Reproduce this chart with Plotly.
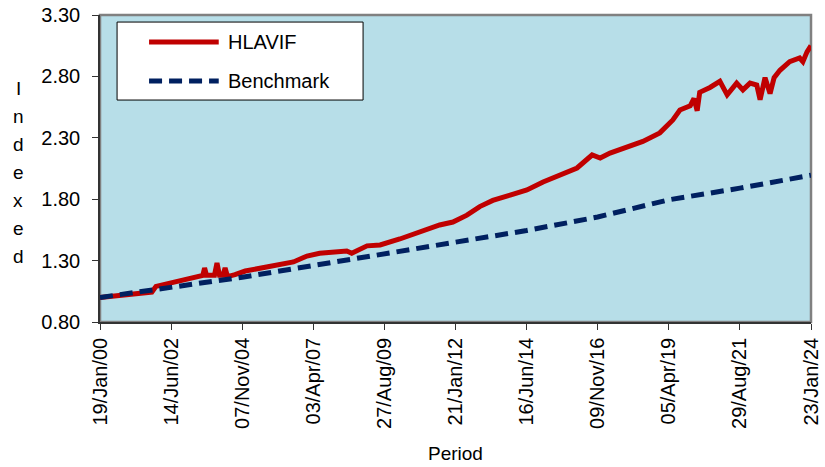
import plotly.graph_objects as go

# ---- data ----
hlavif_dates = [
    "2000-01-19", "2000-11-20", "2001-10-20", "2001-12-10", "2002-07-15", "2003-04-05",
    "2003-07-10", "2003-08-01", "2003-08-25", "2003-12-01", "2004-01-01", "2004-02-01",
    "2004-03-15", "2004-04-10", "2004-05-10", "2004-08-10", "2004-12-15", "2005-09-20",
    "2006-02-15", "2006-08-01", "2007-01-15", "2007-06-20", "2008-05-20", "2008-07-20",
    "2009-01-25", "2009-07-05", "2010-03-05", "2010-11-10", "2011-07-10", "2011-12-20",
    "2012-06-10", "2012-11-15", "2013-04-25", "2013-11-25", "2014-06-20", "2015-01-05",
    "2015-08-01", "2016-02-28", "2016-09-01", "2016-12-10", "2017-04-10", "2017-11-05",
    "2018-05-20", "2018-12-15", "2019-05-25", "2019-08-20", "2019-12-25", "2020-02-10",
    "2020-03-20", "2020-04-20", "2020-08-25", "2020-12-25", "2021-03-25", "2021-07-20",
    "2021-10-05", "2022-01-01", "2022-03-25", "2022-05-05", "2022-07-05", "2022-09-05",
    "2022-10-25", "2023-01-05", "2023-05-05", "2023-09-05", "2023-10-15", "2023-12-05",
    "2024-01-23",
]
hlavif_values = [
    1.00, 1.02, 1.044, 1.09, 1.125, 1.165,
    1.18, 1.24, 1.18, 1.18, 1.28, 1.18,
    1.18, 1.24, 1.17, 1.185, 1.215, 1.25,
    1.264, 1.289, 1.337, 1.36, 1.378, 1.36,
    1.42, 1.427, 1.476, 1.533, 1.59, 1.614,
    1.67, 1.74, 1.79, 1.834, 1.875, 1.94,
    1.997, 2.054, 2.16, 2.135, 2.176, 2.225,
    2.27, 2.34, 2.445, 2.526, 2.56, 2.62,
    2.52, 2.67, 2.71, 2.76, 2.65, 2.745,
    2.69, 2.745, 2.73, 2.61, 2.79, 2.66,
    2.79, 2.85, 2.92, 2.95, 2.92, 3.00,
    3.05,
]

bench_dates = [
    "2000-01-19", "2002-06-14", "2004-11-07", "2007-04-03", "2009-08-27", "2012-01-21",
    "2014-06-16", "2016-11-09", "2019-04-05", "2021-08-29", "2024-01-23",
]
bench_values = [1.00, 1.08, 1.165, 1.26, 1.355, 1.445, 1.545, 1.655, 1.795, 1.89, 1.995]

tick_dates = [
    "2000-01-19", "2002-06-14", "2004-11-07", "2007-04-03", "2009-08-27", "2012-01-21",
    "2014-06-16", "2016-11-09", "2019-04-05", "2021-08-29", "2024-01-23",
]
y_ticks = [0.80, 1.30, 1.80, 2.30, 2.80, 3.30]

series_names = ["HLAVIF", "Benchmark"]
RED = "#C00000"
NAVY = "#002060"
FONT = "Liberation Sans, Arial, sans-serif"

fig = go.Figure()
fig.add_trace(go.Scatter(x=hlavif_dates, y=hlavif_values, mode="lines", name=series_names[0],
                         line=dict(color=RED, width=5), showlegend=False))
fig.add_trace(go.Scatter(x=bench_dates, y=bench_values, mode="lines", name=series_names[1],
                         line=dict(color=NAVY, width=5, dash="13px,7px"), showlegend=False))

fig.update_layout(
    width=825, height=467,
    margin=dict(l=100, r=14, t=15, b=145, autoexpand=False),
    paper_bgcolor="white",
    plot_bgcolor="#B7DEE8",
    font=dict(family=FONT, size=20, color="black"),
)
fig.update_xaxes(
    type="date", range=[tick_dates[0], tick_dates[-1]], automargin=False,
    tickmode="array", tickvals=tick_dates, tickformat="%d/%b/%y",
    tickangle=-90, ticks="outside", ticklen=6, tickcolor="#333333",
    showgrid=False, zeroline=False,
    showline=True, linecolor="#333333", linewidth=1.5,
)
fig.update_yaxes(
    range=[0.8, 3.3], tickmode="array", tickvals=y_ticks, tickformat=".2f", automargin=False,
    ticks="outside", ticklen=6, tickcolor="#333333", ticklabelstandoff=8,
    showgrid=False, zeroline=False,
    showline=True, linecolor="#333333", linewidth=1.5,
)

# plot-area frame (top/right gray border)
fig.add_shape(type="rect", xref="paper", yref="paper", x0=0, x1=1, y0=0, y1=1,
              line=dict(color="#808080", width=2.5), layer="below")

# legend box (drawn like the original)
fig.add_shape(type="rect", xref="paper", yref="paper", x0=0.024, x1=0.370, y0=0.723, y1=0.977,
              line=dict(color="black", width=1), fillcolor="white", layer="above")
fig.add_shape(type="line", xref="paper", yref="paper", x0=0.069, x1=0.167, y0=0.912, y1=0.912,
              line=dict(color=RED, width=5), layer="above")
fig.add_shape(type="line", xref="paper", yref="paper", x0=0.069, x1=0.167, y0=0.785, y1=0.785,
              line=dict(color=NAVY, width=5, dash="13px,7px"), layer="above")
for name, yy in zip(series_names, [0.912, 0.785]):
    fig.add_annotation(text=name, xref="paper", yref="paper", x=0.177, y=yy,
                       xanchor="left", yanchor="middle", showarrow=False,
                       font=dict(family=FONT, size=20, color="black"))

# stacked vertical y-axis title
letters = list("Indexed")
for i, ch in enumerate(letters):
    fig.add_annotation(text=ch, xref="paper", yref="paper", x=-0.115,
                       y=(322 - 88 - 28 * i) / 307.0,
                       xanchor="center", yanchor="middle", showarrow=False,
                       font=dict(family=FONT, size=19, color="black"))

# x-axis title
fig.add_annotation(text="Period", xref="paper", yref="paper", x=0.5, y=-0.427,
                   xanchor="center", yanchor="middle", showarrow=False,
                   font=dict(family=FONT, size=19, color="black"))

fig.write_html("out.html", config={"displayModeBar": False},
               post_script="document.body.style.margin='0';")
